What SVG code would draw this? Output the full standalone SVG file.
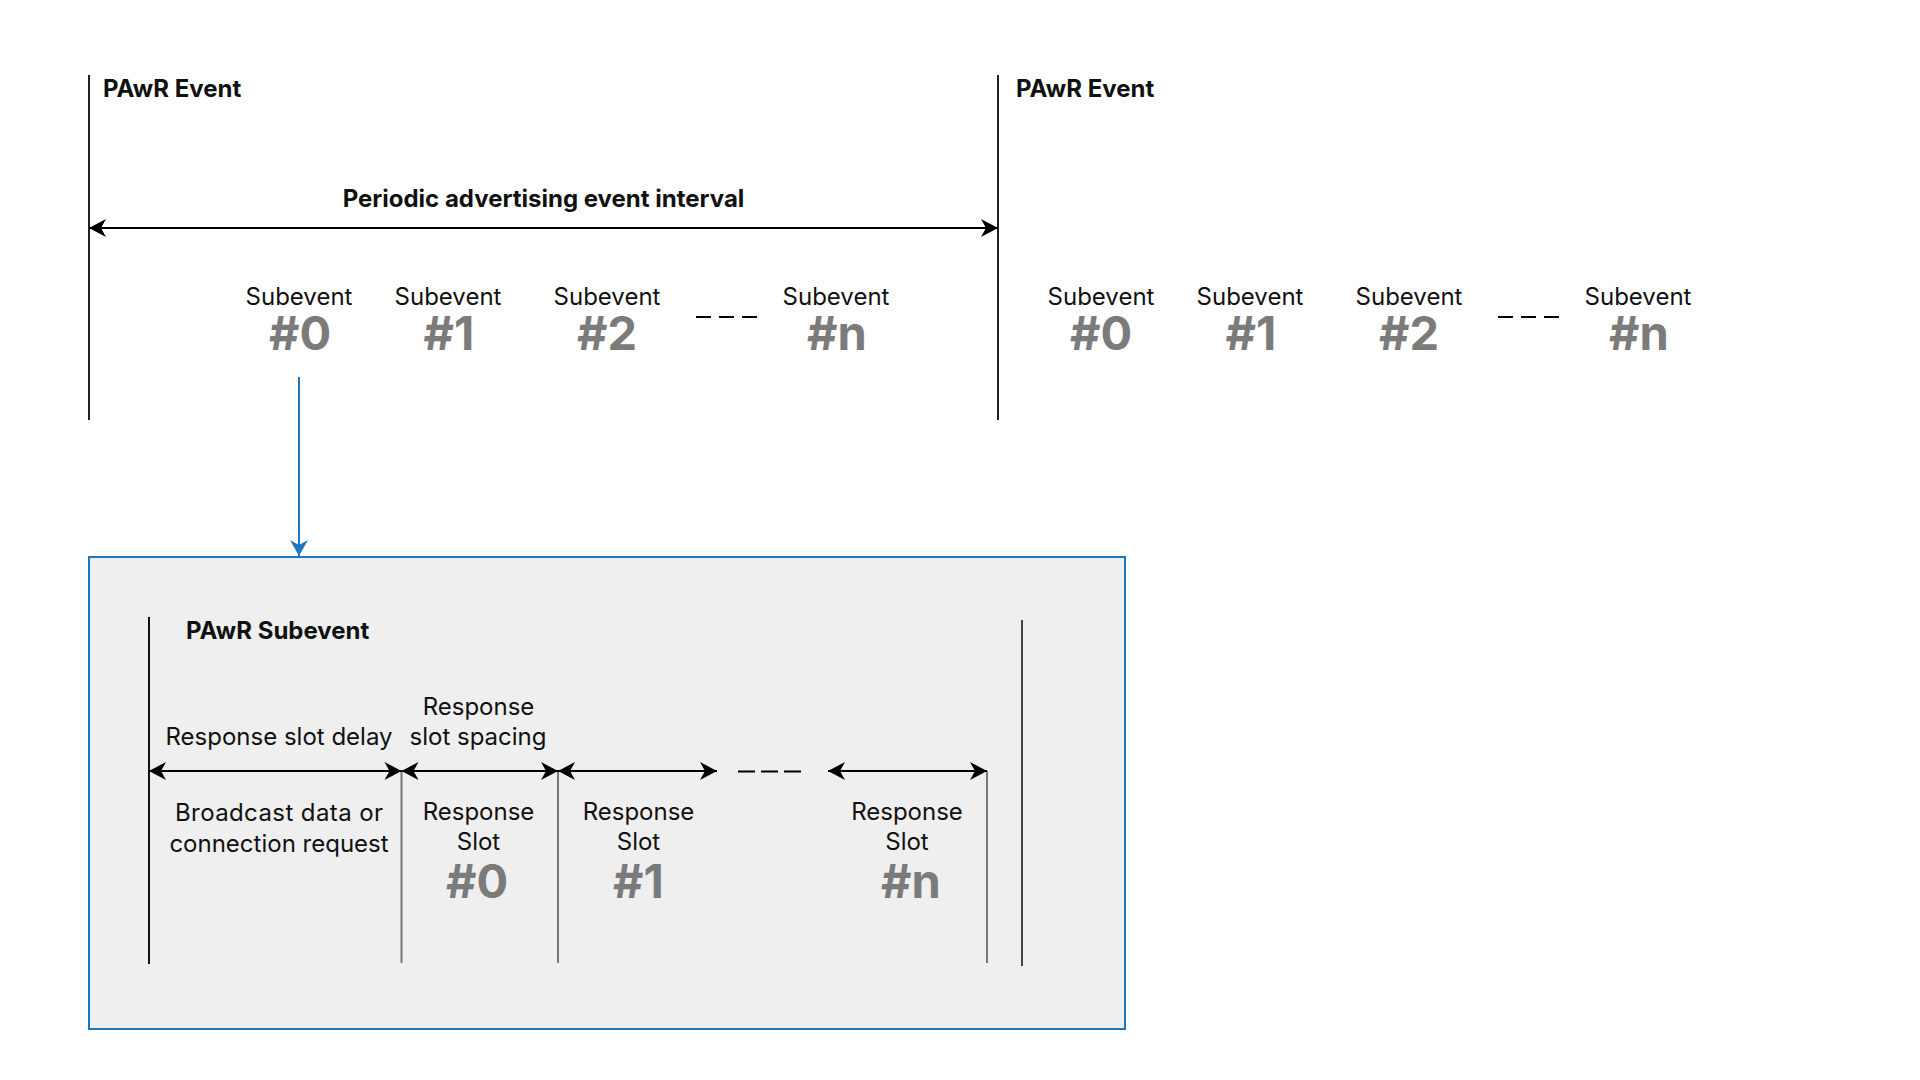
<svg xmlns="http://www.w3.org/2000/svg" width="1920" height="1080" viewBox="0 0 1920 1080">
<defs>
<style>
.t{font-family:"Inter","Liberation Sans",sans-serif;fill:#111;font-size:24px}
.b{font-weight:700}
.mid{text-anchor:middle}
.num{font-size:47px;font-weight:700;fill:#7b7b7b}
.evl{stroke:#222;stroke-width:2}
.sl{stroke:#777;stroke-width:2}
.arr{stroke:#000;stroke-width:2;fill:none;marker-start:url(#ah);marker-end:url(#ah)}
.dash{stroke:#000;stroke-width:2}
</style>
<marker id="ah" viewBox="-18 -10 20 20" refX="0" refY="0" markerWidth="20" markerHeight="20" markerUnits="userSpaceOnUse" orient="auto-start-reverse">
<path d="M0,0 L-17,-9 L-12,0 L-17,9 Z" fill="#000"/>
</marker>
<marker id="bh" viewBox="-18 -10 20 20" refX="0" refY="0" markerWidth="20" markerHeight="20" markerUnits="userSpaceOnUse" orient="auto">
<path d="M0,0 L-16,-9 L-11,0 L-16,9 Z" fill="#1a78c2"/>
</marker>
</defs>
<rect width="1920" height="1080" fill="#fff"/>

<g id="event1">
<line class="evl" x1="89" y1="75" x2="89" y2="420"/>
<text class="t b" x="103" y="97">PAwR Event</text>
</g>
<g id="event2">
<line class="evl" x1="998" y1="75" x2="998" y2="420"/>
<text class="t b" x="1016" y="97">PAwR Event</text>
</g>
<g id="interval">
<text class="t b mid" x="543.5" y="207">Periodic advertising event interval</text>
</g>

<g id="subevents1">
<text class="t mid" x="299" y="305">Subevent<tspan class="num" x="300" dy="45">#0</tspan></text>
<text class="t mid" x="448" y="305">Subevent<tspan class="num" x="449" dy="45">#1</tspan></text>
<text class="t mid" x="607" y="305">Subevent<tspan class="num" x="607" dy="45">#2</tspan></text>
<line class="dash" x1="696" y1="317" x2="758" y2="317" stroke-dasharray="15 8"/>
<text class="t mid" x="836" y="305">Subevent<tspan class="num" x="837" dy="45">#n</tspan></text>
</g>
<g id="subevents2">
<text class="t mid" x="1101" y="305">Subevent<tspan class="num" x="1101" dy="45">#0</tspan></text>
<text class="t mid" x="1250" y="305">Subevent<tspan class="num" x="1251" dy="45">#1</tspan></text>
<text class="t mid" x="1409" y="305">Subevent<tspan class="num" x="1409" dy="45">#2</tspan></text>
<line class="dash" x1="1498" y1="317" x2="1560" y2="317" stroke-dasharray="15 8"/>
<text class="t mid" x="1638" y="305">Subevent<tspan class="num" x="1639" dy="45">#n</tspan></text>
</g>

<g id="subevent-detail">
<rect x="89" y="557" width="1036" height="472" fill="#efefef" stroke="#1a78c2" stroke-width="2"/>
<line x1="149" y1="617" x2="149" y2="964" stroke="#111" stroke-width="2"/>
<line x1="1022" y1="620" x2="1022" y2="966" stroke="#444" stroke-width="2"/>
<text class="t b" x="186" y="639">PAwR Subevent</text>
<line class="sl" x1="401.5" y1="771" x2="401.5" y2="963"/>
<line class="sl" x1="558" y1="771" x2="558" y2="963"/>
<line class="sl" x1="987" y1="771" x2="987" y2="963"/>
<text class="t mid" x="279" y="745">Response slot delay</text>
<text class="t mid" x="478.5" y="715">Response<tspan x="478" dy="30">slot spacing</tspan></text>
<text class="t mid" x="279" y="821"><tspan textLength="208" lengthAdjust="spacing">Broadcast data or</tspan><tspan x="279" dy="31">connection request</tspan></text>
<text class="t mid" x="478.5" y="820">Response<tspan x="478.5" dy="30">Slot</tspan><tspan class="num" x="477" dy="48">#0</tspan></text>
<text class="t mid" x="638.5" y="820">Response<tspan x="638.5" dy="30">Slot</tspan><tspan class="num" x="638.5" dy="48">#1</tspan></text>
<line class="dash" x1="738" y1="771.5" x2="802" y2="771.5" stroke-dasharray="17 6"/>
<text class="t mid" x="907" y="820">Response<tspan x="907" dy="30">Slot</tspan><tspan class="num" x="911" dy="48">#n</tspan></text>
</g>

<g id="connectors">
<line class="arr" x1="89" y1="228" x2="998" y2="228"/>
<line class="arr" x1="149" y1="771" x2="401.5" y2="771"/>
<line class="arr" x1="401.5" y1="771" x2="558" y2="771"/>
<line class="arr" x1="558" y1="771" x2="717" y2="771"/>
<line class="arr" x1="828" y1="771" x2="987" y2="771"/>
<line x1="299" y1="377" x2="299" y2="556" stroke="#1a78c2" stroke-width="2" marker-end="url(#bh)"/>
</g>
</svg>
